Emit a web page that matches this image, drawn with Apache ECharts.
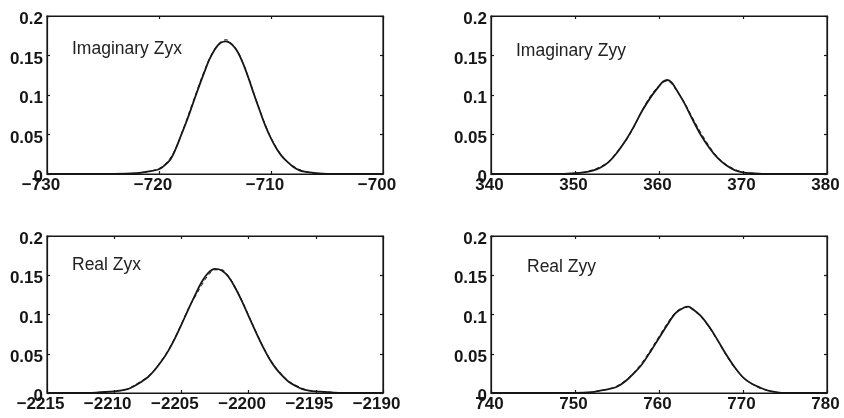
<!DOCTYPE html>
<html>
<head>
<meta charset="utf-8">
<script src="https://cdn.jsdelivr.net/npm/echarts@6/dist/echarts.min.js"></script>
<style>html,body{margin:0;padding:0;background:#fff;}#c{width:844px;height:418px;}</style>
</head>
<body>
<div id="c"></div>
<script>
// ---- Data ----
const panelTitles = ['Imaginary Zyx', 'Imaginary Zyy', 'Real Zyx', 'Real Zyy'];
const yTicks = [0, 0.05, 0.1, 0.15, 0.2];

const p1X = [-730,-724,-722,-721,-720,-719.5,-719,-718.5,-718,-717.5,-717,-716.5,-716,-715.5,-715,-714.5,-714,-713.5,-713,-712.5,-712,-711.5,-711,-710.5,-710,-709.5,-709,-708.5,-708,-707.5,-707,-706,-705,-700];
const p1Solid = [0,0,0.001,0.003,0.006,0.011,0.018,0.032,0.050,0.068,0.088,0.108,0.127,0.145,0.158,0.166,0.168,0.164,0.155,0.140,0.121,0.100,0.080,0.061,0.045,0.032,0.022,0.015,0.009,0.005,0.003,0.001,0,0];
const p1Dash = [0,0,0.001,0.003,0.007,0.012,0.020,0.033,0.051,0.070,0.090,0.110,0.129,0.146,0.159,0.167,0.170,0.165,0.156,0.141,0.122,0.101,0.081,0.062,0.046,0.033,0.023,0.015,0.010,0.006,0.003,0.001,0,0];
const p1Ticks = [-730, -720, -710, -700];

const p2X = [340,348,350,351,352,353,354,355,356,357,358,359,360,360.5,361,361.5,362,363,364,365,366,367,368,369,370,371,373,380];
const p2Solid = [0,0,0.001,0.002,0.004,0.008,0.015,0.027,0.042,0.060,0.080,0.097,0.111,0.117,0.119,0.116,0.108,0.090,0.069,0.049,0.033,0.020,0.011,0.005,0.002,0.001,0,0];
const p2Dash = [0,0,0.001,0.002,0.005,0.009,0.016,0.028,0.041,0.059,0.081,0.099,0.112,0.116,0.118,0.114,0.107,0.091,0.071,0.052,0.035,0.021,0.012,0.006,0.002,0.001,0,0];
const p2Ticks = [340, 350, 360, 370, 380];

const p3X = [-2215,-2212,-2211,-2210,-2209,-2208.5,-2208,-2207.5,-2207,-2206.5,-2206,-2205.5,-2205,-2204.5,-2204,-2203.5,-2203,-2202.5,-2202,-2201.5,-2201,-2200.5,-2200,-2199.5,-2199,-2198.5,-2198,-2197.5,-2197,-2196.5,-2196,-2195.5,-2195,-2194,-2193,-2190];
const p3Solid = [0,0,0.001,0.002,0.005,0.009,0.014,0.020,0.029,0.040,0.053,0.069,0.087,0.106,0.124,0.141,0.153,0.158,0.156,0.148,0.134,0.117,0.098,0.079,0.061,0.045,0.032,0.022,0.014,0.009,0.005,0.003,0.002,0.001,0,0];
const p3Dash = [0,0,0.001,0.002,0.005,0.010,0.015,0.021,0.030,0.041,0.054,0.070,0.088,0.107,0.122,0.137,0.150,0.157,0.157,0.149,0.135,0.118,0.099,0.080,0.062,0.046,0.033,0.023,0.015,0.010,0.006,0.003,0.002,0.001,0,0];
const p3Ticks = [-2215, -2210, -2205, -2200, -2195, -2190];

const p4X = [740,750,752,753,754,755,756,757,758,759,760,761,762,763,763.5,764,765,766,767,768,769,770,771,772,773,774,775,780];
const p4Solid = [0,0,0.001,0.003,0.005,0.008,0.015,0.025,0.037,0.053,0.070,0.087,0.102,0.109,0.110,0.107,0.098,0.084,0.067,0.049,0.033,0.020,0.012,0.007,0.003,0.001,0,0];
const p4Dash = [0,0,0.001,0.003,0.005,0.009,0.016,0.026,0.039,0.055,0.072,0.089,0.103,0.109,0.109,0.106,0.097,0.083,0.066,0.048,0.032,0.020,0.012,0.006,0.003,0.001,0,0];
const p4Ticks = [740, 750, 760, 770, 780];

// ---- Layout / style ----
const INK = '#161616';
const FONT = '"Liberation Sans", Arial, Helvetica, sans-serif';
const panels = [
  {x: p1X, s: p1Solid, d: p1Dash, ticks: p1Ticks, grid: {left: 47, top: 16, width: 336, height: 158}, pad: 12, title: [72, 40]},
  {x: p2X, s: p2Solid, d: p2Dash, ticks: p2Ticks, grid: {left: 491, top: 16, width: 336, height: 158}, pad: 3, title: [516, 42]},
  {x: p3X, s: p3Solid, d: p3Dash, ticks: p3Ticks, grid: {left: 47, top: 236, width: 336, height: 157}, pad: 13, title: [72, 256]},
  {x: p4X, s: p4Solid, d: p4Dash, ticks: p4Ticks, grid: {left: 491, top: 236, width: 336, height: 157}, pad: 3, title: [527, 258]}
];

const labelFont = {color: INK, fontFamily: FONT, fontWeight: 'bold', fontSize: 17};
const grids = [], xAxes = [], yAxes = [], series = [], graphics = [];
panels.forEach((p, i) => {
  grids.push(Object.assign({show: true, borderColor: INK, borderWidth: 1.2, backgroundColor: 'transparent'}, p.grid));
  const xmin = p.ticks[0], xmax = p.ticks[p.ticks.length - 1], xint = p.ticks[1] - p.ticks[0];
  const lineStyle = {color: INK, width: 1.2};
  xAxes.push({
    type: 'value', gridIndex: i, position: 'bottom', min: xmin, max: xmax, interval: xint,
    axisLine: {show: true, onZero: false, lineStyle},
    axisTick: {show: true, inside: true, length: 3, lineStyle},
    splitLine: {show: false},
    axisLabel: Object.assign({
      show: true, margin: 3,
      padding: [0, p.pad, 0, 0],
      formatter: v => String(v).replace('-', '\u2212')
    }, labelFont)
  });
  xAxes.push({
    type: 'value', gridIndex: i, position: 'top', min: xmin, max: xmax, interval: xint,
    axisLine: {show: true, onZero: false, lineStyle},
    axisTick: {show: true, inside: true, length: 3, lineStyle},
    splitLine: {show: false}, axisLabel: {show: false}
  });
  yAxes.push({
    type: 'value', gridIndex: i, position: 'left', min: yTicks[0], max: yTicks[yTicks.length - 1], interval: yTicks[1] - yTicks[0],
    axisLine: {show: true, onZero: false, lineStyle},
    axisTick: {show: true, inside: true, length: 3, lineStyle},
    splitLine: {show: false},
    axisLabel: {show: true, margin: 4,
      formatter: v => '{a|' + String(Math.round(v * 100) / 100) + '}',
      rich: {a: Object.assign({padding: [7, 0, 0, 0]}, labelFont)}}
  });
  yAxes.push({
    type: 'value', gridIndex: i, position: 'right', min: yTicks[0], max: yTicks[yTicks.length - 1], interval: yTicks[1] - yTicks[0],
    axisLine: {show: true, onZero: false, lineStyle},
    axisTick: {show: true, inside: true, length: 3, lineStyle},
    splitLine: {show: false}, axisLabel: {show: false}
  });
  series.push({
    type: 'line', xAxisIndex: 2 * i, yAxisIndex: 2 * i, showSymbol: false, smooth: 0.35,
    data: p.x.map((xv, k) => [xv, p.d[k]]),
    lineStyle: {color: INK, width: 1, type: [4, 3]}, silent: true, z: 2
  });
  series.push({
    type: 'line', xAxisIndex: 2 * i, yAxisIndex: 2 * i, showSymbol: false, smooth: 0.35,
    data: p.x.map((xv, k) => [xv, p.s[k]]),
    lineStyle: {color: INK, width: 1.8}, silent: true, z: 3
  });
  graphics.push({
    type: 'text', left: p.title[0], top: p.title[1],
    style: {text: panelTitles[i], fill: '#222', font: '17.5px ' + FONT}
  });
});

const chart = echarts.init(document.getElementById('c'), null, {renderer: 'canvas'});
chart.setOption({
  animation: false,
  backgroundColor: '#fff',
  grid: grids, xAxis: xAxes, yAxis: yAxes, series: series, graphic: graphics
});
</script>
</body>
</html>
